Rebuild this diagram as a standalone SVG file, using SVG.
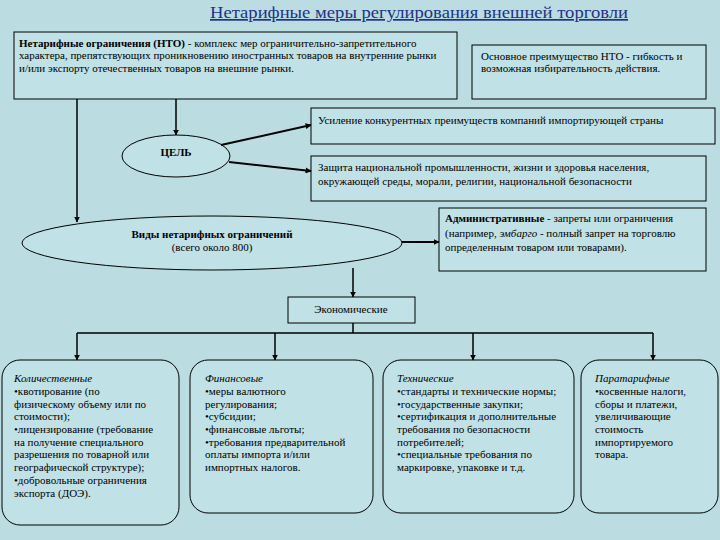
<svg xmlns="http://www.w3.org/2000/svg" width="720" height="540" viewBox="0 0 720 540">
<defs>
<marker id="arr" viewBox="0 0 10 10" refX="9" refY="5" markerWidth="6" markerHeight="6" orient="auto" markerUnits="userSpaceOnUse">
<path d="M0,0 L10,5 L0,10 z" fill="#000"/>
</marker>
<style>
text{font-family:"Liberation Serif","Times New Roman",serif;font-size:11px;fill:#000}
.box{fill:#C0E1E5;stroke:#000;stroke-width:1}
.rbox{fill:#C0E1E5;stroke:#000;stroke-width:1}
.con{fill:none;stroke:#000;stroke-width:1.5;marker-end:url(#arr)}
.thick{stroke-width:2}
.line{fill:none;stroke:#000;stroke-width:1.5}
.b{font-weight:bold}
.i{font-style:italic}
.c{text-anchor:middle}
.title{font-size:17px;fill:#23318A;text-decoration:underline;text-anchor:middle}
</style>
</defs>
<rect x="0" y="0" width="720" height="540" fill="#BBDDE1"/>
<text class="title" x="419" y="18" textLength="418" lengthAdjust="spacingAndGlyphs">Нетарифные меры регулирования внешней торговли</text>

<g id="nto-def">
<rect class="box" x="14" y="32" width="443" height="67"/>
<text x="19" y="47"><tspan class="b">Нетарифные ограничения (НТО)</tspan> - комплекс мер ограничительно-запретительного</text>
<text x="19" y="59">характера, препятствующих проникновению иностранных товаров на внутренние рынки</text>
<text x="19" y="72">и/или экспорту отечественных товаров на внешние рынки.</text>
</g>

<g id="advantage">
<rect class="box" x="472" y="45" width="234" height="54"/>
<text x="481" y="60">Основное преимущество НТО - гибкость и</text>
<text x="481" y="72">возможная избирательность действия.</text>
</g>

<g id="goal">
<ellipse class="box" cx="176" cy="156" rx="54" ry="21"/>
<text class="b c" x="176" y="156">ЦЕЛЬ</text>
</g>

<g id="goal1">
<rect class="box" x="311" y="108" width="404" height="36"/>
<text x="318" y="124">Усиление конкурентных преимуществ компаний импортирующей страны</text>
</g>

<g id="goal2">
<rect class="box" x="311" y="156" width="395" height="45"/>
<text x="318" y="171">Защита национальной промышленности, жизни и здоровья населения,</text>
<text x="318" y="185">окружающей среды, морали, религии, национальной безопасности</text>
</g>

<g id="types">
<ellipse class="box" cx="212" cy="243" rx="190" ry="27"/>
<text class="b c" x="212" y="238">Виды нетарифных ограничений</text>
<text class="c" x="212" y="251">(всего около 800)</text>
</g>

<g id="admin">
<rect class="box" x="439" y="208" width="267" height="63"/>
<text x="445" y="222"><tspan class="b">Административные</tspan> - запреты или ограничения</text>
<text x="445" y="237">(например, <tspan class="i">эмбарго</tspan> - полный запрет на торговлю</text>
<text x="445" y="251">определенным товаром или товарами).</text>
</g>

<g id="econ">
<rect class="box" x="288" y="297" width="127" height="26"/>
<text class="c" x="351" y="313">Экономические</text>
</g>

<g id="quant">
<rect class="rbox" x="2" y="360" width="177" height="165" rx="18" ry="18"/>
<text x="14" y="382" class="i">Количественные</text>
<text x="14" y="395">•квотирование (по</text>
<text x="14" y="408">физическому объему или по</text>
<text x="14" y="420">стоимости);</text>
<text x="14" y="433">•лицензирование (требование</text>
<text x="14" y="446">на получение специального</text>
<text x="14" y="458">разрешения по товарной или</text>
<text x="14" y="471">географической структуре);</text>
<text x="14" y="484">•добровольные ограничения</text>
<text x="14" y="497">экспорта (ДОЭ).</text>
</g>

<g id="fin">
<rect class="rbox" x="190" y="360" width="183" height="153" rx="18" ry="18"/>
<text x="205" y="382" class="i">Финансовые</text>
<text x="205" y="395">•меры валютного</text>
<text x="205" y="408">регулирования;</text>
<text x="205" y="420">•субсидии;</text>
<text x="205" y="433">•финансовые льготы;</text>
<text x="205" y="446">•требования предварительной</text>
<text x="205" y="458">оплаты импорта и/или</text>
<text x="205" y="471">импортных налогов.</text>
</g>

<g id="tech">
<rect class="rbox" x="383" y="360" width="191" height="153" rx="18" ry="18"/>
<text x="397" y="382" class="i">Технические</text>
<text x="397" y="395">•стандарты и технические нормы;</text>
<text x="397" y="408">•государственные закупки;</text>
<text x="397" y="420">•сертификация и дополнительные</text>
<text x="397" y="433">требования по безопасности</text>
<text x="397" y="446">потребителей;</text>
<text x="397" y="458">•специальные требования по</text>
<text x="397" y="471">маркировке, упаковке и т.д.</text>
</g>

<g id="para">
<rect class="rbox" x="581" y="360" width="137" height="153" rx="18" ry="18"/>
<text x="595" y="382" class="i">Паратарифные</text>
<text x="595" y="395">•косвенные налоги,</text>
<text x="595" y="408">сборы и платежи,</text>
<text x="595" y="420">увеличивающие</text>
<text x="595" y="433">стоимость</text>
<text x="595" y="446">импортируемого</text>
<text x="595" y="458">товара.</text>
</g>

<g id="connectors">
<path class="con" d="M176,99 V135"/>
<path class="con" d="M77,99 V222"/>
<path class="con thick" d="M221,145 L311,125"/>
<path class="con thick" d="M229,162 L311,171"/>
<path class="con thick" d="M402,242 H439"/>
<path class="con" d="M353,268 V297"/>
<path class="line" d="M353,323 V333 M77,333 H653"/>
<path class="con" d="M77,333 V360"/>
<path class="con" d="M275,333 V360"/>
<path class="con" d="M473,333 V360"/>
<path class="con" d="M653,333 V360"/>
</g>
</svg>
